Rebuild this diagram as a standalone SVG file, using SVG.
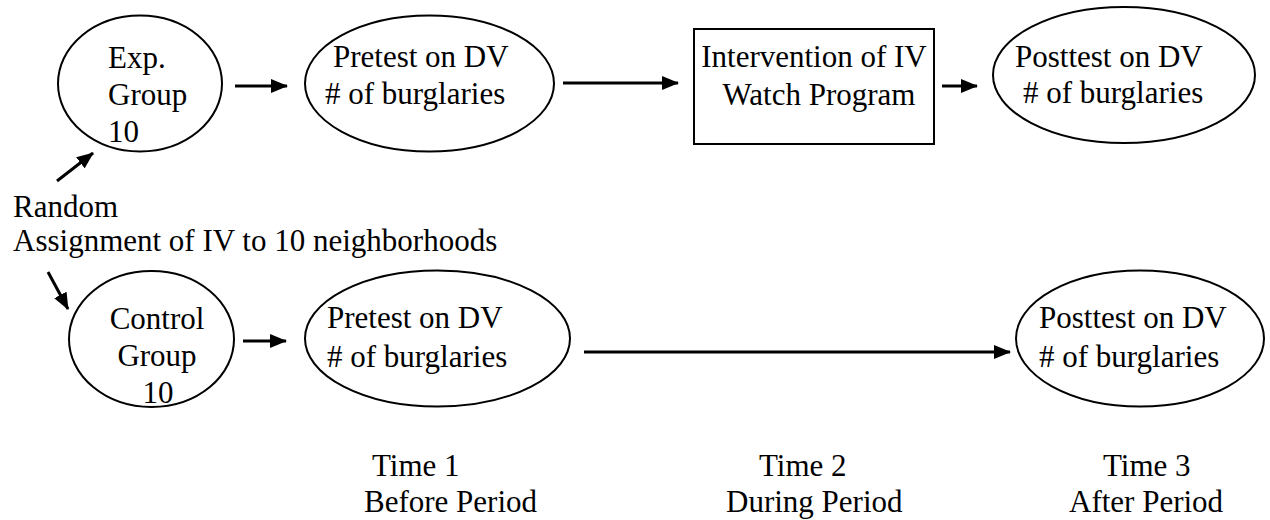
<svg xmlns="http://www.w3.org/2000/svg" width="1270" height="520" viewBox="0 0 1270 520" font-family="'Liberation Serif', Tinos, 'Times New Roman', 'DejaVu Serif', serif" font-size="31">
<style>
text{font-family:'Liberation Serif', Tinos, 'Times New Roman', 'DejaVu Serif', serif;font-size:31px;fill:#000}
.n{fill:#fff;stroke:#000;stroke-width:2}
.c{stroke:#000;stroke-width:3;fill:none;marker-end:url(#ah)}
.m{text-anchor:middle}
</style>
<defs>
<marker id="ah" markerUnits="userSpaceOnUse" markerWidth="17" markerHeight="14" refX="16" refY="7" orient="auto" viewBox="0 0 17 14">
<path d="M0,0 L17,7 L0,14 z" fill="#000"/>
</marker>
</defs>
<rect width="1270" height="520" fill="#fff"/>
<g id="exp-group">
<ellipse class="n" cx="140" cy="83.5" rx="82" ry="68"/>
<text x="108" y="68">Exp.</text>
<text x="108" y="105">Group</text>
<text x="108" y="142">10</text>
</g>
<g id="pretest-exp">
<ellipse class="n" cx="429.5" cy="83.5" rx="124.5" ry="68"/>
<text x="333" y="67">Pretest on DV</text>
<text x="325" y="104"># of burglaries</text>
</g>
<g id="intervention">
<rect class="n" x="694" y="29" width="240" height="115"/>
<text x="814" y="67" class="m">Intervention of IV</text>
<text x="819" y="105" class="m">Watch Program</text>
</g>
<g id="posttest-exp">
<ellipse class="n" cx="1124" cy="75" rx="131" ry="68"/>
<text x="1015" y="67">Posttest on DV</text>
<text x="1023" y="103"># of burglaries</text>
</g>
<g id="random-assignment">
<text x="13" y="217">Random</text>
<text x="13" y="251">Assignment of IV to 10 neighborhoods</text>
</g>
<g id="control-group">
<ellipse class="n" cx="151.5" cy="339" rx="82.5" ry="68"/>
<text x="157" y="329" class="m">Control</text>
<text x="157" y="366" class="m">Group</text>
<text x="158" y="403" class="m">10</text>
</g>
<g id="pretest-control">
<ellipse class="n" cx="437.5" cy="338.5" rx="132.5" ry="68"/>
<text x="327" y="328">Pretest on DV</text>
<text x="327" y="367"># of burglaries</text>
</g>
<g id="posttest-control">
<ellipse class="n" cx="1140" cy="338.5" rx="124" ry="68"/>
<text x="1039" y="328">Posttest on DV</text>
<text x="1039" y="367"># of burglaries</text>
</g>
<g id="time-1">
<text x="372" y="476">Time 1</text>
<text x="364" y="512">Before Period</text>
</g>
<g id="time-2">
<text x="759" y="476">Time 2</text>
<text x="726" y="512">During Period</text>
</g>
<g id="time-3">
<text x="1103" y="476">Time 3</text>
<text x="1069" y="512">After Period</text>
</g>
<g id="connectors">
<line class="c" x1="235" y1="86" x2="287" y2="86"/>
<line class="c" x1="563" y1="83" x2="678" y2="83"/>
<line class="c" x1="942" y1="86" x2="977" y2="86"/>
<line class="c" x1="57" y1="181" x2="93" y2="153"/>
<line class="c" x1="48" y1="272" x2="68" y2="309"/>
<line class="c" x1="243" y1="341" x2="286" y2="341"/>
<line class="c" x1="584" y1="352" x2="1010" y2="352"/>
</g>
</svg>
